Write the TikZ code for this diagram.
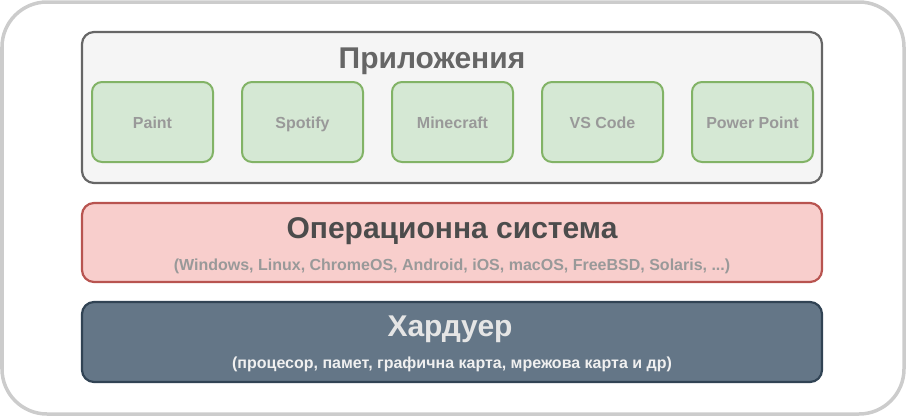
\documentclass[tikz,border=0pt]{standalone}
\usepackage{fontspec}
\setmainfont{Liberation Sans}
\usepackage{tikz}

\definecolor{framegray}{HTML}{CCCCCC}
\definecolor{appsfill}{HTML}{F5F5F5}
\definecolor{appsline}{HTML}{666666}
\definecolor{greenfill}{HTML}{D5E8D4}
\definecolor{greenline}{HTML}{82B366}
\definecolor{redfill}{HTML}{F8CECC}
\definecolor{redline}{HTML}{B85450}
\definecolor{bluefill}{HTML}{647687}
\definecolor{blueline}{HTML}{314354}
\definecolor{labelgray}{HTML}{999999}

\begin{document}
\begin{tikzpicture}[x=1pt,y=-1pt,
  layer/.style={draw,rounded corners=12pt,line width=2.2pt,minimum width=740pt,inner sep=0pt},
  appbox/.style={draw=greenline,fill=greenfill,rounded corners=10pt,line width=2pt,
    minimum width=121pt,minimum height=80pt,inner sep=0pt},
  applabel/.style={anchor=base,font=\fontsize{16}{18}\selectfont\bfseries,text=labelgray},
  bigtitle/.style={anchor=base,font=\fontsize{30}{34}\selectfont\bfseries},
  smalltitle/.style={anchor=base,font=\fontsize{16}{18}\selectfont\bfseries}]
\useasboundingbox (0,0) rectangle (906,416);
\draw[framegray,line width=3.5pt,rounded corners=45pt] (2,2) rectangle (904,414);
% layers
\node[layer,draw=appsline,fill=appsfill,minimum height=151pt] (apps) at (452,107.5) {};
\node[layer,draw=redline,fill=redfill,minimum height=79pt] (os) at (452,242.5) {};
\node[layer,draw=blueline,fill=bluefill,minimum height=80pt] (hw) at (452,342) {};
% titles
\node[bigtitle,text=appsline] (appstitle) at (432,68) {Приложения};
\node[bigtitle,text=black!70] (ostitle) at (452,238.5) {Операционна система};
\node[smalltitle,text=labelgray] (ossub) at (452,270) {(Windows, Linux, ChromeOS, Android, iOS, macOS, FreeBSD, Solaris, ...)};
\node[bigtitle,text=white!90!black] (hwtitle) at (450,336) {Хардуер};
\node[smalltitle,text=white!94!black] (hwsub) at (452,368) {(процесор, памет, графична карта, мрежова карта и др)};
% apps
\node[appbox] (paint) at (152.5,122) {};
\node[appbox] (spotify) at (302.5,122) {};
\node[appbox] (minecraft) at (452.5,122) {};
\node[appbox] (vscode) at (602.5,122) {};
\node[appbox] (powerpoint) at (752.5,122) {};
\node[applabel] (paintlabel) at (152.5,128) {Paint};
\node[applabel] (spotifylabel) at (302.5,128) {Spotify};
\node[applabel] (minecraftlabel) at (452.5,128) {Minecraft};
\node[applabel] (vscodelabel) at (602.5,128) {VS Code};
\node[applabel] (powerpointlabel) at (752.5,128) {Power Point};
\end{tikzpicture}
\end{document}
